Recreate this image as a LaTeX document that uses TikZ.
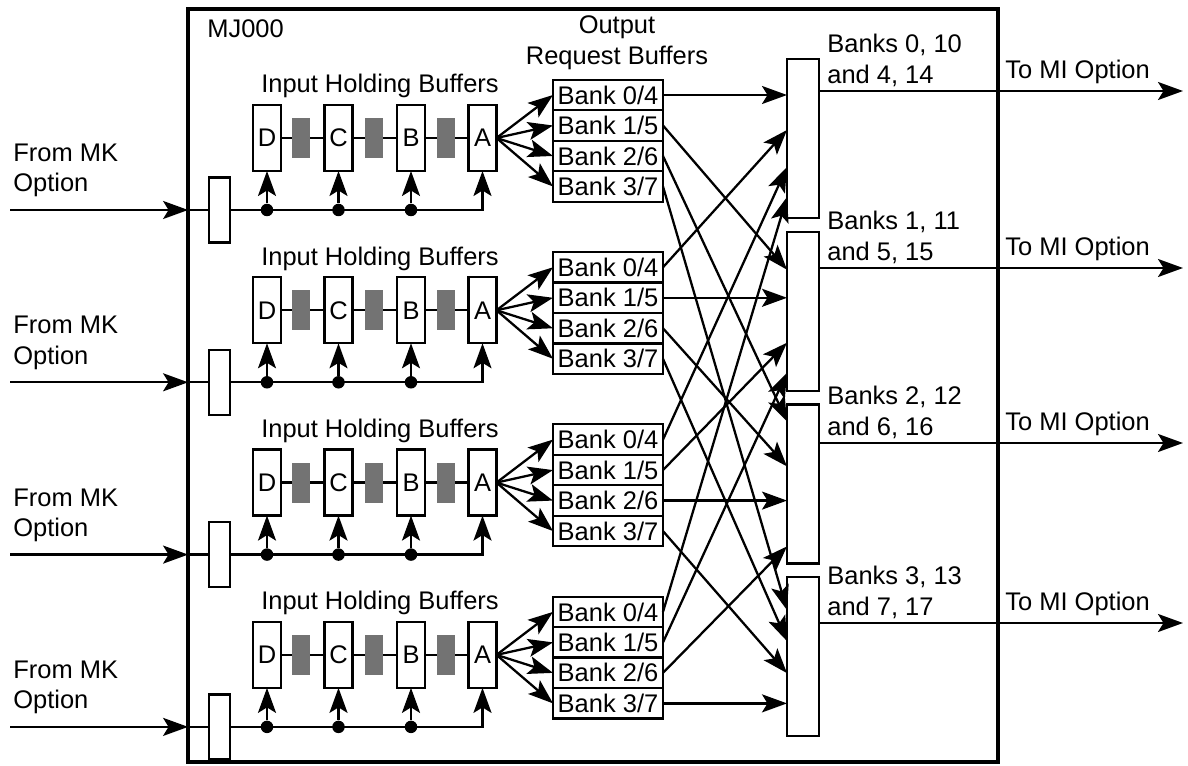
\documentclass[tikz,border=0pt]{standalone}
\usepackage{fontspec}
\setmainfont{Liberation Sans}
\usetikzlibrary{positioning}
\usetikzlibrary{arrows.meta, calc}

\tikzset{
conn/.style={line width=1.3pt},
arr/.style={line width=1.3pt,-{Stealth[length=0.5cm,width=0.36cm,inset=0.11cm]}},
buf/.style={draw,line width=1.3pt,minimum width=0.56cm,minimum height=1.32cm,inner sep=0pt,outer sep=0pt},
stipple/.style={fill=black!55,minimum width=0.36cm,minimum height=0.8cm,inner sep=0pt},
reg/.style={draw,line width=1.3pt,fill=white,minimum width=0.42cm,minimum height=1.3cm,inner sep=0pt,outer sep=0pt},
bank/.style={draw,line width=1.3pt,minimum width=2.2cm,minimum height=0.61cm,inner sep=0pt,outer sep=0pt},
sink/.style={draw,line width=1.3pt,minimum width=0.64cm,minimum height=3.18cm,inner sep=0pt,outer sep=0pt},
dot/.style={circle,fill,inner sep=0pt,minimum size=0.25cm},
lbl/.style={inner sep=0pt,align=left}
}

\begin{document}
\begin{tikzpicture}[x=0.02cm,y=-0.02cm,font=\fontsize{14.5}{17.3}\selectfont]
\useasboundingbox (0,0) rectangle (1188,766);
\node[draw,line width=2pt,minimum width=16.2cm,minimum height=15.06cm,inner sep=0pt,outer sep=0pt] (mj) at (593,385.5) {};
\node[lbl,anchor=base west] (mjname) at (207,38) {MJ000};
\node[inner sep=0pt,align=center,anchor=south] (orb) at (617,70) {Output\\Request Buffers};

\foreach \j/\yo/\ta/\tb in {0/91/{Banks 0, 10}/{and 4, 14},1/268/{Banks 1, 11}/{and 5, 15},2/443/{Banks 2, 12}/{and 6, 16},3/623/{Banks 3, 13}/{and 7, 17}}{
\node[sink] (sink\j) at (803,138.5+172.7*\j) {};
\coordinate (out\j) at (1183,\yo);
\draw[arr] (out\j -| sink\j.east) -- (out\j);
\node[lbl,anchor=south west] (banks\j) at (827,\yo-4) {\ta\\\tb};
\node[lbl,anchor=base west] (mi\j) at (1005,\yo-12) {To MI Option};
}

\foreach \g in {0,1,2,3}{
\pgfmathsetmacro\dy{172.3*\g}
\node[lbl,anchor=south west] (mk\g) at (13,197.5+\dy) {From MK\\Option};
\coordinate (in\g) at (10,210+\dy);
\node[reg] (reg\g) at (219.5,210+\dy) {};
\draw[arr] (in\g) -- (in\g -| mj.west);
\draw[conn] (in\g -| mj.west) -- (reg\g);
\node[inner sep=0pt,anchor=base] (ihb\g) at (380,93+\dy) {Input Holding Buffers};
\foreach \n/\x in {D/267,C/338.5,B/411,A/482.5}
  \node[buf] (\n\g) at (\x,138+\dy) {\n};
\draw[conn] (D\g) -- (C\g) -- (B\g) -- (A\g);
\node[stipple] (sa\g) at (301,138+\dy) {};
\node[stipple] (sb\g) at (374,138+\dy) {};
\node[stipple] (sc\g) at (446,138+\dy) {};
\draw[arr] (reg\g) -| (A\g);
\foreach \n in {D,C,B}{
  \node[dot] (j\n\g) at (\n\g |- reg\g) {};
  \draw[arr] (j\n\g) -- (\n\g);
}
\node[bank] (bank\g0) at (608,95+\dy) {Bank 0/4};
\node[bank,below=0pt of bank\g0] (bank\g1) {Bank 1/5};
\node[bank,below=0pt of bank\g1] (bank\g2) {Bank 2/6};
\node[bank,below=0pt of bank\g2] (bank\g3) {Bank 3/7};
\foreach \k in {0,1,2,3}
  \draw[arr] (A\g.east) -- (bank\g\k.west);
}

\foreach \k/\offs in {0/{36,71,108,138},1/{38,66,111,141},2/{17,62,97,142},3/{33,64,96,126}}{
\foreach \off [count=\g from 0] in \offs {
  \ifnum\g=\k
    \draw[arr] (bank\g\k.east) -- (bank\g\k.east -| sink\k.west);
  \else
    \draw[arr] (bank\g\k.east) -- ($(sink\k.north west)+(0,\off)$);
  \fi
}
}

\end{tikzpicture}
\end{document}
